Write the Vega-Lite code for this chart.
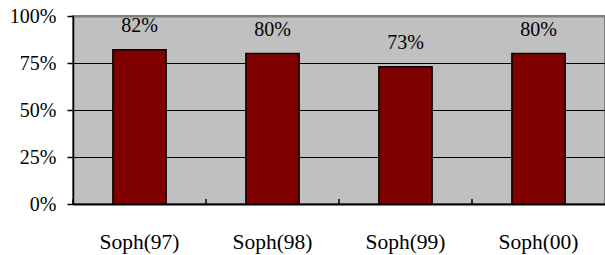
{
  "$schema": "https://vega.github.io/schema/vega-lite/v6.json",
  "width": 532,
  "height": 188,
  "autosize": {"type": "none"},
  "padding": {"left": 73, "top": 16, "right": 0, "bottom": 51},
  "background": "white",
  "config": {
    "view": {"fill": "#C0C0C0", "stroke": "#808080", "strokeWidth": 2},
    "font": "Liberation Serif",
    "axis": {"labelFont": "Liberation Serif", "labelColor": "black", "labelFontSize": 20},
    "text": {"font": "Liberation Serif"}
  },
  "data": {
    "values": [
      {"group": "Soph(97)", "value": 0.82},
      {"group": "Soph(98)", "value": 0.80},
      {"group": "Soph(99)", "value": 0.73},
      {"group": "Soph(00)", "value": 0.80}
    ]
  },
  "encoding": {
    "x": {
      "field": "group",
      "type": "nominal",
      "sort": null,
      "scale": {"paddingInner": 0, "paddingOuter": 0},
      "axis": {
        "title": null,
        "labelAngle": 0,
        "labelFontSize": 21.5,
        "domainColor": "black",
        "domainWidth": 2,
        "ticks": false,
        "labelPadding": 27,
        "labelBaseline": "top"
      }
    },
    "y": {
      "field": "value",
      "type": "quantitative",
      "scale": {"domain": [0, 1]},
      "axis": {
        "title": null,
        "values": [0, 0.25, 0.5, 0.75, 1],
        "format": ".0%",
        "grid": true,
        "gridColor": {"condition": {"test": "datum.value === 1", "value": "#808080"}, "value": "black"},
        "gridWidth": {"condition": {"test": "datum.value === 1", "value": 2}, "value": 1.2},
        "gridOpacity": 1,
        "domainColor": "black",
        "domainWidth": 1.5,
        "tickColor": "black",
        "tickSize": 6,
        "tickWidth": 1.5,
        "labelPadding": 11
      }
    }
  },
  "layer": [
    {
      "mark": {"type": "bar", "color": "#800000", "stroke": "black", "strokeWidth": 1.5, "width": {"band": 0.4}}
    },
    {
      "mark": {"type": "rule", "color": "black", "strokeWidth": 1.5},
      "encoding": {
        "x": {"field": "group", "type": "nominal", "sort": null, "bandPosition": 0},
        "y": {"datum": 0},
        "y2": {"datum": 0.026}
      }
    },
    {
      "mark": {"type": "text", "fontSize": 20, "color": "black", "baseline": "alphabetic", "dy": -18},
      "encoding": {"text": {"field": "value", "type": "quantitative", "format": ".0%"}}
    }
  ]
}
